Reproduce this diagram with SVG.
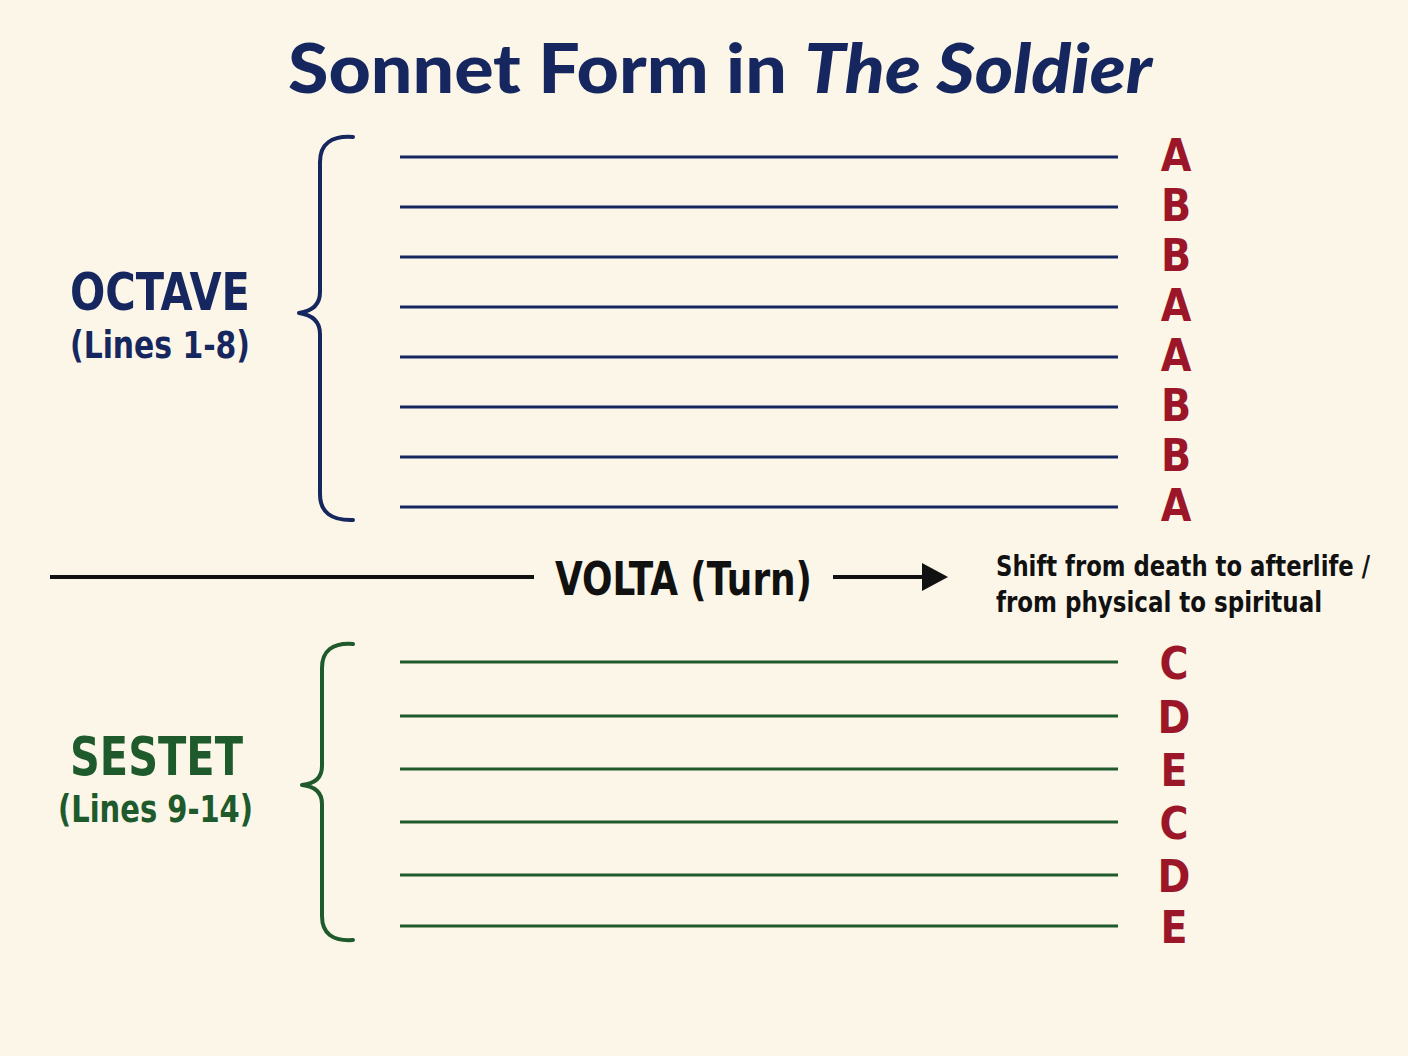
<svg xmlns="http://www.w3.org/2000/svg" width="1408" height="1056" viewBox="0 0 1408 1056">
<defs>
<style>
.bg{fill:#FBF6E8}
.cond{font-family:"DejaVu Sans Condensed","DejaVu Sans","Liberation Sans",sans-serif;font-stretch:condensed;font-weight:bold}
.navy{fill:#15275E}
.green{fill:#1E5A2B}
.red{fill:#9B1628}
.ln-navy{stroke:#15275E;stroke-width:3;fill:none}
.ln-green{stroke:#1E5A2B;stroke-width:3;fill:none}
.br-navy{stroke:#15275E;stroke-width:4;fill:none;stroke-linecap:round;stroke-linejoin:round}
.br-green{stroke:#1E5A2B;stroke-width:4;fill:none;stroke-linecap:round;stroke-linejoin:round}
.rhyme{font-size:44px;text-anchor:middle}
</style>
</defs>
<rect class="bg" x="0" y="0" width="1408" height="1056"/>

<g id="title">
<text x="288" y="93" font-family="Lato,'Open Sans','Liberation Sans',sans-serif" font-weight="900" font-size="68" fill="#15275E" textLength="864" lengthAdjust="spacingAndGlyphs">Sonnet Form in <tspan font-style="italic">The Soldier</tspan></text>
</g>

<g id="octave">
<path class="br-navy" d="M353,137 Q320,135 320,162 L320,292 Q320,310 299,313 Q320,316 320,334 L320,494 Q320,521 353,520"/>
<text class="cond navy" x="70" y="310" font-size="52" textLength="180" lengthAdjust="spacingAndGlyphs">OCTAVE</text>
<text class="cond navy" x="70" y="358" font-size="37" textLength="180" lengthAdjust="spacingAndGlyphs">(Lines 1-8)</text>
<g id="octave-lines">
<line class="ln-navy" x1="400" y1="157" x2="1118" y2="157"/>
<line class="ln-navy" x1="400" y1="207" x2="1118" y2="207"/>
<line class="ln-navy" x1="400" y1="257" x2="1118" y2="257"/>
<line class="ln-navy" x1="400" y1="307" x2="1118" y2="307"/>
<line class="ln-navy" x1="400" y1="357" x2="1118" y2="357"/>
<line class="ln-navy" x1="400" y1="407" x2="1118" y2="407"/>
<line class="ln-navy" x1="400" y1="457" x2="1118" y2="457"/>
<line class="ln-navy" x1="400" y1="507" x2="1118" y2="507"/>
</g>
<g id="octave-rhymes" class="cond red">
<text class="rhyme" x="1176" y="171">A</text>
<text class="rhyme" x="1176" y="221">B</text>
<text class="rhyme" x="1176" y="271">B</text>
<text class="rhyme" x="1176" y="321">A</text>
<text class="rhyme" x="1176" y="371">A</text>
<text class="rhyme" x="1176" y="421">B</text>
<text class="rhyme" x="1176" y="471">B</text>
<text class="rhyme" x="1176" y="521">A</text>
</g>
</g>

<g id="volta">
<line x1="50" y1="577" x2="534" y2="577" stroke="#111" stroke-width="4"/>
<text class="cond" x="555" y="595" font-size="46" fill="#111" textLength="257" lengthAdjust="spacingAndGlyphs">VOLTA  (Turn)</text>
</g>

<g id="connectors">
<line x1="833" y1="577" x2="926" y2="577" stroke="#111" stroke-width="4"/>
<polygon points="922,563 948,577 922,591" fill="#111"/>
</g>

<g id="volta-note">
<text class="cond" x="996" y="576" font-size="28" fill="#111" textLength="374" lengthAdjust="spacingAndGlyphs">Shift from death to afterlife /</text>
<text class="cond" x="996" y="612" font-size="28" fill="#111" textLength="326" lengthAdjust="spacingAndGlyphs">from physical to spiritual</text>
</g>

<g id="sestet">
<path class="br-green" d="M353,644 Q322,642 322,668 L322,766 Q322,783 302,785 Q322,787 322,804 L322,916 Q322,942 353,940"/>
<text class="cond green" x="70" y="775" font-size="54" textLength="173" lengthAdjust="spacingAndGlyphs">SESTET</text>
<text class="cond green" x="58" y="822" font-size="37" textLength="195" lengthAdjust="spacingAndGlyphs">(Lines 9-14)</text>
<g id="sestet-lines">
<line class="ln-green" x1="400" y1="662" x2="1118" y2="662"/>
<line class="ln-green" x1="400" y1="716" x2="1118" y2="716"/>
<line class="ln-green" x1="400" y1="769" x2="1118" y2="769"/>
<line class="ln-green" x1="400" y1="822" x2="1118" y2="822"/>
<line class="ln-green" x1="400" y1="875" x2="1118" y2="875"/>
<line class="ln-green" x1="400" y1="926" x2="1118" y2="926"/>
</g>
<g id="sestet-rhymes" class="cond red">
<text class="rhyme" x="1174" y="679">C</text>
<text class="rhyme" x="1174" y="733">D</text>
<text class="rhyme" x="1174" y="786">E</text>
<text class="rhyme" x="1174" y="839">C</text>
<text class="rhyme" x="1174" y="892">D</text>
<text class="rhyme" x="1174" y="943">E</text>
</g>
</g>
</svg>
